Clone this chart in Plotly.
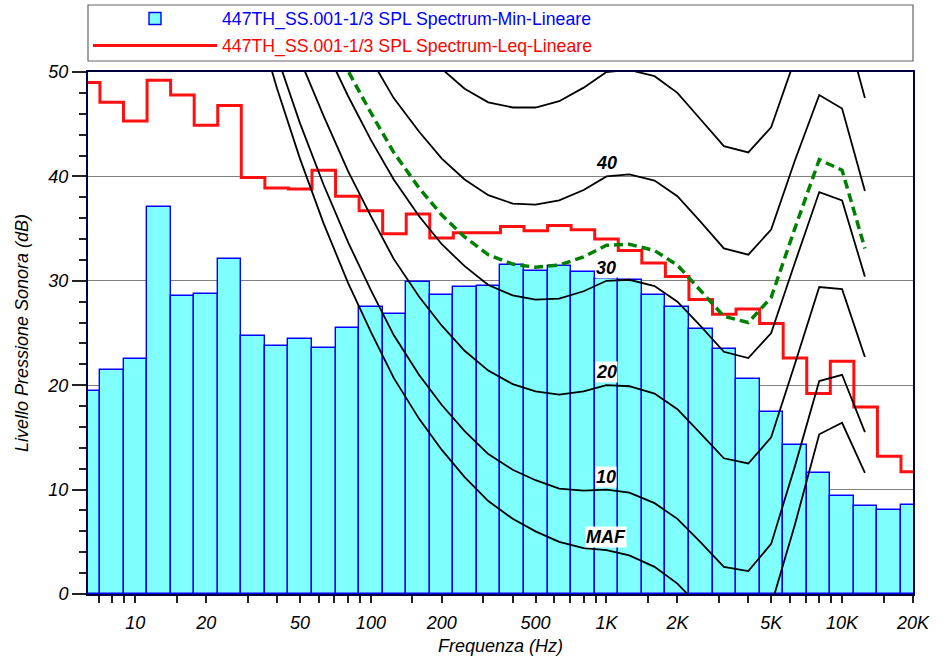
import numpy as np
import plotly.graph_objects as go

# ---------------- data ----------------
bands = [6.3, 8, 10, 12.5, 16, 20, 25, 31.5, 40, 50, 63, 80, 100, 125, 160, 200, 250, 315,
         400, 500, 630, 800, 1000, 1250, 1600, 2000, 2500, 3150, 4000, 5000, 6300, 8000,
         10000, 12500, 16000, 20000]
spl_min = [19.4, 21.5, 22.5, 37.1, 28.5, 28.7, 32.1, 24.7, 23.8, 24.4, 23.6, 25.5, 27.5,
           26.8, 29.9, 28.6, 29.4, 29.5, 31.5, 30.9, 31.4, 30.8, 30.2, 30.1, 28.6, 27.5,
           25.4, 23.5, 20.6, 17.4, 14.3, 11.6, 9.4, 8.4, 8.0, 8.5]
spl_leq = [49.0, 47.1, 45.3, 49.2, 47.8, 44.9, 46.8, 39.9, 38.9, 38.8, 40.6, 38.1, 36.7,
           34.5, 36.4, 34.1, 34.6, 34.6, 35.2, 34.8, 35.3, 34.9, 34.0, 32.9, 31.7, 30.4,
           28.2, 26.8, 27.3, 25.9, 22.6, 19.2, 22.3, 17.9, 13.2, 11.7]

iso_freqs = [20, 25, 31.5, 40, 50, 63, 80, 100, 125, 160, 200, 250, 315, 400, 500, 630, 800,
             1000, 1250, 1600, 2000, 2500, 3150, 4000, 5000, 6300, 8000, 10000, 12500]
curve_maf = [74.3, 65.0, 56.3, 48.4, 41.7, 35.5, 29.8, 25.1, 20.7, 16.8, 13.8, 11.2, 8.9, 7.2,
             6.0, 5.0, 4.4, 4.2, 3.7, 2.6, 1.0, -1.2, -3.6, -3.9, -1.1, 6.6, 15.3, 16.4, 11.6]
curve_10 = [76.8, 67.7, 59.2, 51.5, 45.1, 39.2, 33.7, 29.1, 24.8, 21.0, 18.1, 15.6, 13.4, 11.9,
            10.9, 10.1, 9.9, 10.0, 9.7, 8.7, 7.2, 5.0, 2.6, 2.2, 4.8, 12.2, 20.4, 21.0, 15.5]
curve_20 = [81.3, 72.5, 64.3, 57.1, 51.2, 45.8, 40.5, 36.2, 32.1, 28.5, 25.7, 23.3, 21.4, 20.1,
            19.4, 19.1, 19.4, 20.0, 19.9, 19.2, 17.7, 15.4, 13.0, 12.5, 15.0, 22.0, 29.4, 29.2, 22.7]
curve_30 = [86.0, 77.6, 69.7, 62.9, 57.6, 52.6, 47.7, 43.5, 39.7, 36.2, 33.5, 31.4, 29.6, 28.6,
            28.2, 28.3, 29.0, 30.0, 30.1, 29.5, 28.0, 25.7, 23.2, 22.6, 25.0, 31.7, 38.5, 37.7, 30.4]
curve_40 = [91.0, 82.9, 75.4, 69.0, 64.3, 59.7, 55.0, 51.2, 47.5, 44.3, 41.7, 39.7, 38.2, 37.4,
            37.3, 37.7, 38.7, 40.0, 40.2, 39.6, 38.1, 35.7, 33.1, 32.5, 34.9, 41.5, 47.8, 46.5, 38.6]
curve_50 = [96.2, 88.5, 81.3, 75.4, 71.3, 67.1, 62.7, 59.1, 55.7, 52.7, 50.3, 48.4, 47.1, 46.6,
            46.6, 47.2, 48.5, 50.0, 50.2, 49.6, 48.0, 45.5, 42.9, 42.3, 44.7, 51.2, 57.2, 55.6, 47.5]
curve_meas = [87.7, 79.3, 71.6, 65.0, 59.8, 55.0, 50.1, 46.1, 42.3, 38.9, 36.3, 34.2, 32.5, 31.6,
              31.3, 31.5, 32.3, 33.4, 33.5, 32.9, 31.5, 29.1, 26.6, 26.0, 28.4, 35.0, 41.6, 40.6, 33.1]

curve_labels = ["MAF", "10", "20", "30", "40"]

x_tick_vals = [7, 8, 9, 10, 15, 20, 30, 40, 50, 60, 70, 80, 90, 100, 150, 200, 300, 400, 500,
               600, 700, 800, 900, 1000, 1500, 2000, 3000, 4000, 5000, 6000, 7000, 8000, 9000,
               10000, 15000, 20000]
x_label_vals = [10, 20, 50, 100, 200, 500, 1000, 2000, 5000, 10000, 20000]
x_label_text = ["10", "20", "50", "100", "200", "500", "1K", "2K", "5K", "10K", "20K"]
x_long_ticks = [20, 200, 2000, 20000]
y_tick_vals = [0, 10, 20, 30, 40, 50]
y_dark_grid = [20, 40]

name_min = "447TH_SS.001-1/3 SPL Spectrum-Min-Lineare"
name_leq = "447TH_SS.001-1/3 SPL Spectrum-Leq-Lineare"

# ---------------- derived ----------------
band_idx = [round(10 * np.log10(f)) for f in bands]
lo = [10 ** ((n - 0.5) / 10) for n in band_idx]
hi = [10 ** ((n + 0.5) / 10) for n in band_idx]

FONT = "Liberation Sans, Arial, sans-serif"

fig = go.Figure()

fig.add_trace(go.Bar(
    x=bands, y=spl_min,
    offset=[l - c for l, c in zip(lo, bands)],
    width=[h - l for h, l in zip(hi, lo)],
    marker=dict(color="#80FFFF", line=dict(color="#0000FF", width=1.4)),
    name='<span style="color:#0000FF">' + name_min + '</span>',
    legendgroup="a",
))

fig.add_trace(go.Scatter(
    x=lo + [hi[-1]], y=spl_leq + [spl_leq[-1]],
    mode="lines", line=dict(color="#FF1010", width=3, shape="hv"),
    name='<span style="color:#FF0000">' + name_leq + '</span>',
    legendgroup="b",
))

for c in [curve_maf, curve_10, curve_20, curve_30, curve_40, curve_50]:
    fig.add_trace(go.Scatter(x=iso_freqs, y=c, mode="lines",
                             line=dict(color="black", width=1.8), showlegend=False,
                             hoverinfo="x+y"))

fig.add_trace(go.Scatter(x=iso_freqs, y=curve_meas, mode="lines",
                         line=dict(color="#008000", width=3.5, dash="9px,5px"),
                         showlegend=False))

i1k = iso_freqs.index(1000)
for lab, c in zip(curve_labels, [curve_maf, curve_10, curve_20, curve_30, curve_40]):
    fig.add_annotation(x=np.log10(1000), y=c[i1k], yshift=13, text=lab, showarrow=False,
                       bgcolor="white", borderpad=0,
                       font=dict(family=FONT, size=18, color="black", style="italic",
                                 weight="bold"))

tick_text = [x_label_text[x_label_vals.index(v)] if v in x_label_vals else "" for v in x_tick_vals]

fig.update_layout(
    width=949, height=657,
    margin=dict(l=88, r=36, t=72, b=63, autoexpand=False),
    paper_bgcolor="white", plot_bgcolor="white",
    barmode="overlay", bargap=0,
    font=dict(family=FONT, size=17, color="black"),
    showlegend=True,
    legend=dict(x=0, xanchor="left", y=1.0144, yanchor="bottom",
                bgcolor="rgba(0,0,0,0)", borderwidth=0,
                font=dict(family=FONT, size=17.7), itemwidth=124, tracegroupgap=1),
    xaxis=dict(type="log", range=[np.log10(6.3), np.log10(20000)],
               tickmode="array", tickvals=x_tick_vals, ticktext=tick_text,
               ticks="outside", ticklen=7, tickwidth=1.5, tickcolor="#222",
               ticklabelstandoff=4,
               tickfont=dict(family=FONT, size=18, style="italic"),
               showgrid=False, showline=True, linecolor="#000040", linewidth=2, mirror=True,
               title=dict(text="Frequenza (Hz)", standoff=8,
                          font=dict(family=FONT, size=18, style="italic"))),
    xaxis2=dict(type="log", range=[np.log10(6.3), np.log10(20000)], overlaying="x",
                anchor="y", side="bottom", tickmode="array", tickvals=x_long_ticks,
                ticks="outside", ticklen=14, tickwidth=1.5, tickcolor="#777",
                showticklabels=False, showgrid=False, showline=False, zeroline=False),
    yaxis=dict(range=[0, 50], tickmode="array", tickvals=y_tick_vals,
               ticks="outside", ticklen=14, tickwidth=1.5, tickcolor="#222",
               minor=dict(dtick=2, ticks="outside", ticklen=7, tickwidth=1.5, tickcolor="#222",
                          showgrid=False),
               tickfont=dict(family=FONT, size=18, style="italic"),
               showgrid=True, gridcolor="#808080", gridwidth=1, zeroline=False,
               showline=True, linecolor="#000040", linewidth=2, mirror=True,
               title=dict(text="Livello Pressione Sonora (dB)", standoff=14,
                          font=dict(family=FONT, size=18, style="italic"))),
    yaxis2=dict(range=[0, 50], overlaying="y", anchor="x", side="left",
                tickmode="array", tickvals=y_dark_grid, showticklabels=False, ticks="",
                showgrid=True, gridcolor="black", gridwidth=1, zeroline=False, showline=False),
    shapes=[dict(type="rect", xref="paper", yref="paper", x0=0, x1=1,
                 y0=1.0211, y1=1.1284, line=dict(color="#666", width=1.2),
                 fillcolor="rgba(0,0,0,0)", layer="below")],
)

fig.write_html("out.html")
